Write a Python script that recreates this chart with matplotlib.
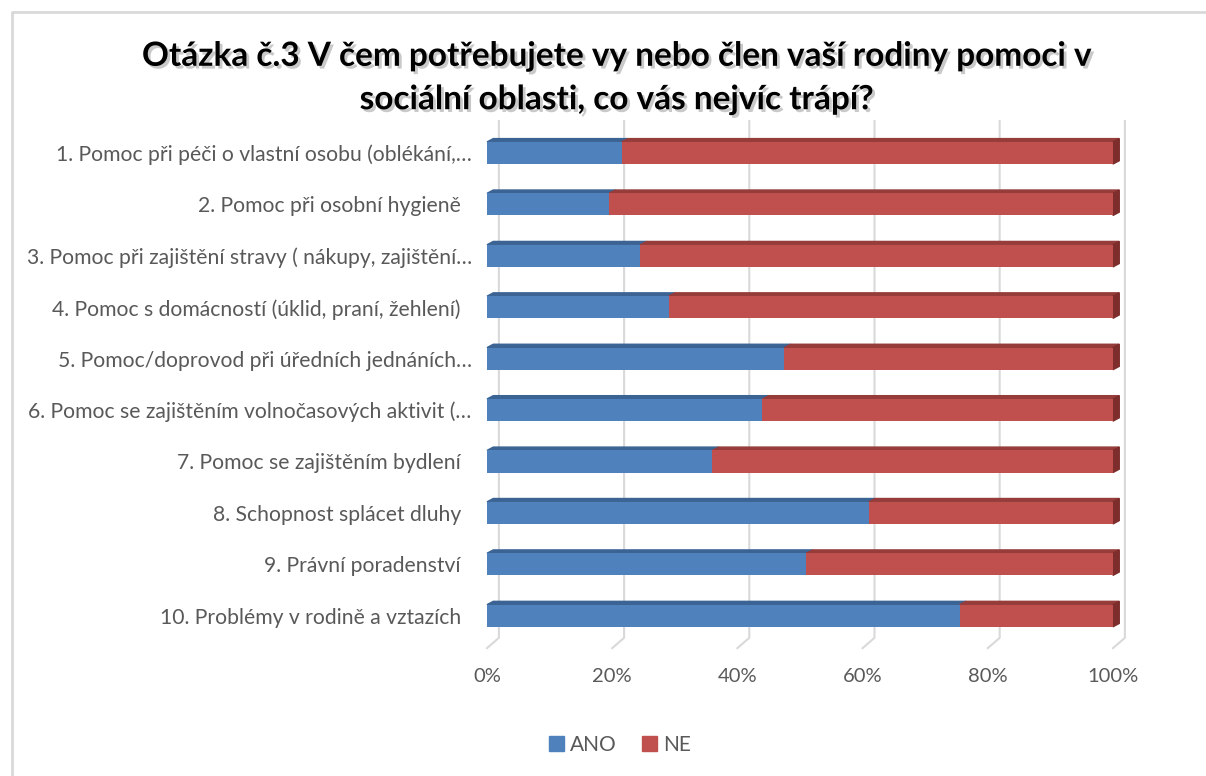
import numpy as np
import matplotlib.pyplot as plt
import matplotlib.patheffects as pe
from matplotlib.patches import Polygon, Patch
from matplotlib.lines import Line2D

labels = [
    "1. Pomoc při péči o vlastní osobu (oblékání,…",
    "2. Pomoc při osobní hygieně  ",
    "3. Pomoc při zajištění stravy ( nákupy, zajištění…",
    "4. Pomoc s domácností (úklid, praní, žehlení)  ",
    "5. Pomoc/doprovod při úředních jednáních…",
    "6. Pomoc se zajištěním volnočasových aktivit (…",
    "7. Pomoc se zajištěním bydlení  ",
    "8. Schopnost splácet dluhy  ",
    "9. Právní poradenství  ",
    "10. Problémy v rodině a vztazích  ",
]
ano = [21.5, 19.5, 24.5, 29.0, 47.5, 44.0, 36.0, 61.0, 51.0, 75.5]
ne = [100 - a for a in ano]
ticks = [0, 20, 40, 60, 80, 100]
tick_labels = ["0%", "20%", "40%", "60%", "80%", "100%"]

BLUE, RED = "#4F81BD", "#C0504D"
BLUE_TOP, RED_TOP = "#3B6494", "#963C3A"
RED_SIDE = "#7D2E2C"
GRID = "#D9D9D9"
TXT = "#595959"
plt.rcParams['font.family'] = ['Lato', 'DejaVu Sans']

fig = plt.figure(figsize=(12.06, 7.76), dpi=100)
ax = fig.add_axes([487 / 1206, 1 - 662 / 776, 626 / 1206, 545 / 776])
ax.set_xlim(0, 100)
ax.set_ylim(9.9, -0.7)

h = 0.43
dx, dy = 1.0, 0.065
y = np.arange(len(labels))

# back-wall gridlines with floor slash
for t in ticks:
    ax.plot([t + 1.9, t + 1.9, t], [-0.62, 9.43, 9.63], color=GRID, lw=1.5,
            clip_on=False, zorder=1)

ax.barh(y, ano, height=h, color=BLUE, zorder=3)
ax.barh(y, ne, left=ano, height=h, color=RED, zorder=3)

for i in range(len(labels)):
    top = i - h / 2
    bot = i + h / 2
    a = ano[i]
    ax.add_patch(Polygon([(0, top), (dx, top - dy), (a + dx, top - dy), (a, top)],
                         closed=True, color=BLUE_TOP, zorder=2, clip_on=False))
    ax.add_patch(Polygon([(a, top), (a + dx, top - dy), (100 + dx, top - dy), (100, top)],
                         closed=True, color=RED_TOP, zorder=2, clip_on=False))
    ax.add_patch(Polygon([(100, top), (100 + dx, top - dy), (100 + dx, bot - dy), (100, bot)],
                         closed=True, color=RED_SIDE, zorder=2, clip_on=False))

ax.set_yticks(y)
ax.set_yticklabels(labels, fontsize=15.2, color=TXT)
ax.set_xticks(ticks)
ax.set_xticklabels(tick_labels, fontsize=14.5, color=TXT)
ax.tick_params(axis='y', length=0, pad=11)
ax.tick_params(axis='x', length=0, pad=4)
for s in ax.spines.values():
    s.set_visible(False)

fig.text(617 / 1206, 1 - 78 / 776,
         "Otázka č.3 V čem potřebujete vy nebo člen vaší rodiny pomoci v\n"
         "sociální oblasti, co vás nejvíc trápí?",
         ha='center', va='center', fontsize=24, fontweight='bold',
         family=['Liberation Sans Narrow', 'Lato'], linespacing=1.6,
         path_effects=[pe.withSimplePatchShadow(offset=(2, -2), shadow_rgbFace='#888888', alpha=0.45)])

handles = [Patch(color=BLUE, label="ANO"), Patch(color=RED, label="NE")]
fig.legend(handles=handles, loc='center', bbox_to_anchor=(620 / 1206, 1 - 745 / 776),
           ncol=2, frameon=False, fontsize=15, labelcolor=TXT,
           handlelength=0.7, handleheight=0.7, handletextpad=0.3, columnspacing=1.2)

# outer chart frame
fig.add_artist(Line2D([12 / 1206, 12 / 1206, 1], [0, 1 - 12 / 776, 1 - 12 / 776],
                      transform=fig.transFigure, color=GRID, lw=2))

fig.savefig("out.png", dpi=100)
